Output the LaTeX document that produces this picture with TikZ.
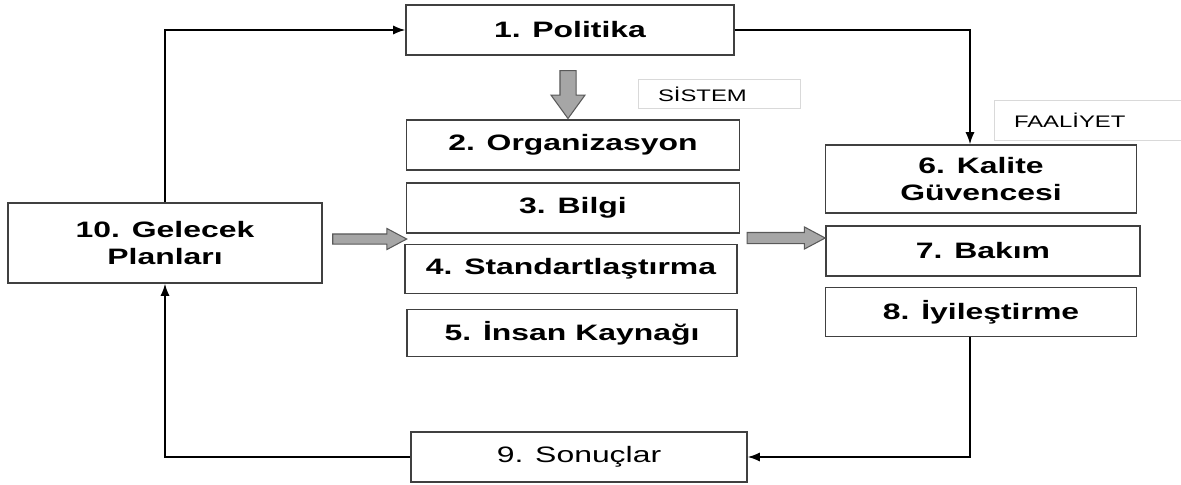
\documentclass[tikz,border=0pt]{standalone}
\usepackage{fontspec}
\setmainfont{Liberation Sans}
\newfontfamily\kutufont[FakeStretch=1.43]{Liberation Sans}
\usetikzlibrary{shapes.arrows,arrows.meta}

\begin{document}
\begin{tikzpicture}[x=0.02cm,y=-0.02cm,>={Latex[length=2.4mm,width=1.8mm]},
    kutu/.style={draw=black!75,line width=0.9pt,fill=white,inner sep=0pt,align=center,
        font=\kutufont\bfseries\fontsize{12.7}{15.3}\selectfont},
    etiket/.style={draw=black!15,line width=0.5pt,inner ysep=0pt,inner xsep=0.4cm,align=left,
        font=\kutufont\fontsize{9.5}{11}\selectfont},
    gri ok/.style={single arrow,fill=black!35,draw=black!65,line width=0.6pt}]
    \useasboundingbox (0,0) rectangle (1181,484);

                        \node (p1) at (570,30) [kutu,minimum width=6.56cm,minimum height=1cm] {1. Politika};
                        \node (p2) at (573,145) [kutu,minimum width=6.66cm,minimum height=1cm] {2. Organizasyon};
                        \node (p3) at (573,208) [kutu,minimum width=6.66cm,minimum height=1cm] {3. Bilgi};
                        \node (p4) at (571,269) [kutu,minimum width=6.64cm,minimum height=0.98cm] {4. Standartlaştırma};
                        \node (p5) at (572,333) [kutu,minimum width=6.6cm,minimum height=0.94cm] {5. İnsan Kaynağı};
                        \node (p6) at (981,179) [kutu,minimum width=6.22cm,minimum height=1.36cm] {6. Kalite\\Güvencesi};
                        \node (p7) at (983,251) [kutu,minimum width=6.28cm,minimum height=1cm] {7. Bakım};
                        \node (p8) at (981,312) [kutu,minimum width=6.22cm,minimum height=0.98cm] {8. İyileştirme};
                        \node (p9) at (579,457) [kutu,minimum width=6.72cm,minimum height=1cm,font=\kutufont\fontsize{12.7}{15.3}\selectfont] {9. Sonuçlar};
                        \node (p10) at (165,243) [kutu,minimum width=6.28cm,minimum height=1.6cm] {10. Gelecek\\Planları};

                        \node (sistem) at (719,94) [etiket,text width=2.44cm,minimum height=0.58cm] {SİSTEM};
                        \node (faaliyet) at (1088,120) [etiket,text width=2.96cm,minimum height=0.8cm] {FAALİYET};

                        \node (ok1) at (568,89) [gri ok,shape border rotate=270,minimum height=0.96cm,inner sep=0.15cm,
                            single arrow head extend=0.18cm,single arrow tip angle=72] {};
                        \node (ok2) at (365,239) [gri ok,minimum height=1.48cm,inner sep=0.09cm,
                            single arrow head extend=0.11cm,single arrow tip angle=56] {};
                        \node (ok3) at (781,238) [gri ok,minimum height=1.56cm,inner sep=0.1cm,
                            single arrow head extend=0.11cm,single arrow tip angle=56] {};

                    \draw [->,line width=0.8pt] (p10.north) |- (p1.west);
                    \draw [->,line width=0.8pt] (p1.east) -| ([xshift=-0.22cm]p6.north);
                    \draw [->,line width=0.8pt] ([xshift=-0.22cm]p8.south) |- (p9.east);
                    \draw [->,line width=0.8pt] (p9.west) -| (p10.south);

                    \end{tikzpicture}
\end{document}
